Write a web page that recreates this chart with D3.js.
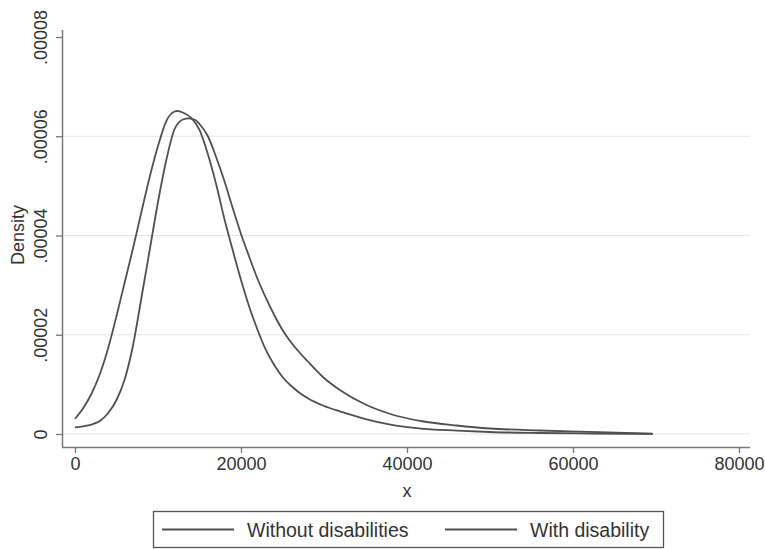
<!DOCTYPE html>
<html>
<head>
<meta charset="utf-8">
<script src="https://cdn.jsdelivr.net/npm/d3@7"></script>
<style>
  body { margin: 0; background: #fff; }
  text { font-family: "Liberation Sans", Arial, sans-serif; fill: #333; }
</style>
</head>
<body>
<div id="chart"></div>
<script>
// kernel density estimates
let seriesNames = ["Without disabilities", "With disability"];

let xWith = [0, 1000, 2000, 3000, 4000, 5000, 6000, 7000, 8000, 9000, 10000, 11000, 12000, 12300, 13000, 14000, 15000, 16000, 17000, 18000, 19000, 20000, 21000, 22000, 23000, 24000, 25000, 26000, 27000, 28000, 30000, 32000, 35000, 38000, 42000, 46000, 50000, 56000, 62000, 69600];
let yWith = [3.08e-6, 5.24e-6, 8.16e-6, 1.209e-5, 1.733e-5, 2.378e-5, 3.063e-5, 3.748e-5, 4.474e-5, 5.179e-5, 5.803e-5, 6.307e-5, 6.499e-5, 6.509e-5, 6.479e-5, 6.368e-5, 6.126e-5, 5.642e-5, 5.038e-5, 4.332e-5, 3.708e-5, 3.103e-5, 2.559e-5, 2.096e-5, 1.693e-5, 1.390e-5, 1.149e-5, 9.77e-6, 8.36e-6, 7.25e-6, 5.64e-6, 4.53e-6, 3.02e-6, 1.91e-6, 1.05e-6, 6.9e-7, 4.0e-7, 2.0e-7, 1.0e-7, 2e-8];

let xWithout = [0, 1000, 2000, 3000, 4000, 5000, 6000, 7000, 8000, 9000, 10000, 11000, 12000, 13000, 13700, 14500, 15000, 16000, 17000, 18000, 19000, 20000, 21000, 22000, 23000, 24000, 25000, 26000, 27000, 28000, 30000, 32000, 35000, 38000, 42000, 46000, 50000, 56000, 62000, 69600];
let yWithout = [1.35e-6, 1.55e-6, 1.91e-6, 2.62e-6, 4.23e-6, 6.85e-6, 1.108e-5, 1.793e-5, 2.741e-5, 3.708e-5, 4.675e-5, 5.521e-5, 6.146e-5, 6.338e-5, 6.362e-5, 6.327e-5, 6.247e-5, 6.005e-5, 5.582e-5, 5.098e-5, 4.554e-5, 4.030e-5, 3.567e-5, 3.123e-5, 2.741e-5, 2.398e-5, 2.096e-5, 1.854e-5, 1.652e-5, 1.471e-5, 1.128e-5, 8.77e-6, 5.94e-6, 4.03e-6, 2.52e-6, 1.71e-6, 1.11e-6, 7.1e-7, 4.4e-7, 5e-8];

let xTicks = [0, 20000, 40000, 60000, 80000];
let yTicks = [0, 0.00002, 0.00004, 0.00006, 0.00008];
let yTickLabels = ["0", ".00002", ".00004", ".00006", ".00008"];

let width = 765, height = 549;
let axisColor = "#777", lineColor = "#505050";

let svg = d3.select("#chart").append("svg")
  .attr("width", width)
  .attr("height", height);

svg.append("rect").attr("width", width).attr("height", height).attr("fill", "#fff");

let xScale = d3.scaleLinear().domain([0, 80000]).range([75, 739]);
let yScale = d3.scaleLinear().domain([0, 0.00008]).range([434, 37]);

// grid
svg.append("g")
  .selectAll("line")
  .data(yTicks.slice(0, 4))
  .enter().append("line")
  .attr("x1", 62).attr("x2", 750)
  .attr("y1", d => yScale(d)).attr("y2", d => yScale(d))
  .attr("stroke", "#e6e6e6")
  .attr("stroke-width", 1.2);

// x axis
let xAxis = d3.axisBottom(xScale).tickValues(xTicks).tickSize(6).tickPadding(4).tickFormat(d3.format("d"));
let gx = svg.append("g")
  .attr("transform", "translate(0,447)")
  .call(xAxis);
gx.select(".domain").attr("d", "M62,0.5H750").attr("stroke", axisColor).attr("stroke-width", 1.5);
gx.selectAll(".tick line").attr("stroke", axisColor).attr("stroke-width", 1.3);
gx.selectAll(".tick text").attr("font-size", 18).attr("fill", "#333")
  .attr("font-family", "Liberation Sans, Arial, sans-serif");

// y axis
let yAxis = d3.axisLeft(yScale).tickValues(yTicks).tickSize(6).tickFormat((d, i) => yTickLabels[i]);
let gy = svg.append("g")
  .attr("transform", "translate(62,0)")
  .call(yAxis);
gy.select(".domain").attr("d", "M0.5,30V447").attr("stroke", axisColor).attr("stroke-width", 1.5);
gy.selectAll(".tick line").attr("stroke", axisColor).attr("stroke-width", 1.3);
gy.selectAll(".tick text")
  .attr("font-size", 18).attr("fill", "#333")
  .attr("font-family", "Liberation Sans, Arial, sans-serif")
  .attr("x", null).attr("dy", null)
  .attr("text-anchor", "middle")
  .attr("transform", "translate(-15,0) rotate(-90)");

// axis titles
svg.append("text")
  .attr("transform", "translate(24,235) rotate(-90)")
  .attr("text-anchor", "middle")
  .attr("font-size", 18)
  .text("Density");

svg.append("text")
  .attr("x", xScale(40000)).attr("y", 497)
  .attr("text-anchor", "middle")
  .attr("font-size", 18)
  .text("x");

// density curves
let line = d3.line()
  .x(d => xScale(d[0]))
  .y(d => yScale(d[1]))
  .curve(d3.curveMonotoneX);

let curves = [d3.zip(xWithout, yWithout), d3.zip(xWith, yWith)];

svg.append("g")
  .selectAll("path")
  .data(curves)
  .enter().append("path")
  .attr("d", line)
  .attr("fill", "none")
  .attr("stroke", lineColor)
  .attr("stroke-width", 1.8);

// legend
let legend = svg.append("g");
legend.append("rect")
  .attr("x", 153.5).attr("y", 511.5)
  .attr("width", 510).attr("height", 36)
  .attr("fill", "#fff")
  .attr("stroke", "#555").attr("stroke-width", 1.3);

let legendX = [162, 445];
let items = legend.selectAll("g.item")
  .data(seriesNames)
  .enter().append("g")
  .attr("class", "item")
  .attr("transform", (d, i) => "translate(" + legendX[i] + ",529.5)");

items.append("line")
  .attr("x1", 0).attr("x2", 72)
  .attr("stroke", lineColor).attr("stroke-width", 1.8);

items.append("text")
  .attr("x", 85).attr("y", 7)
  .attr("font-size", 19.5)
  .text(d => d);
</script>
</body>
</html>
